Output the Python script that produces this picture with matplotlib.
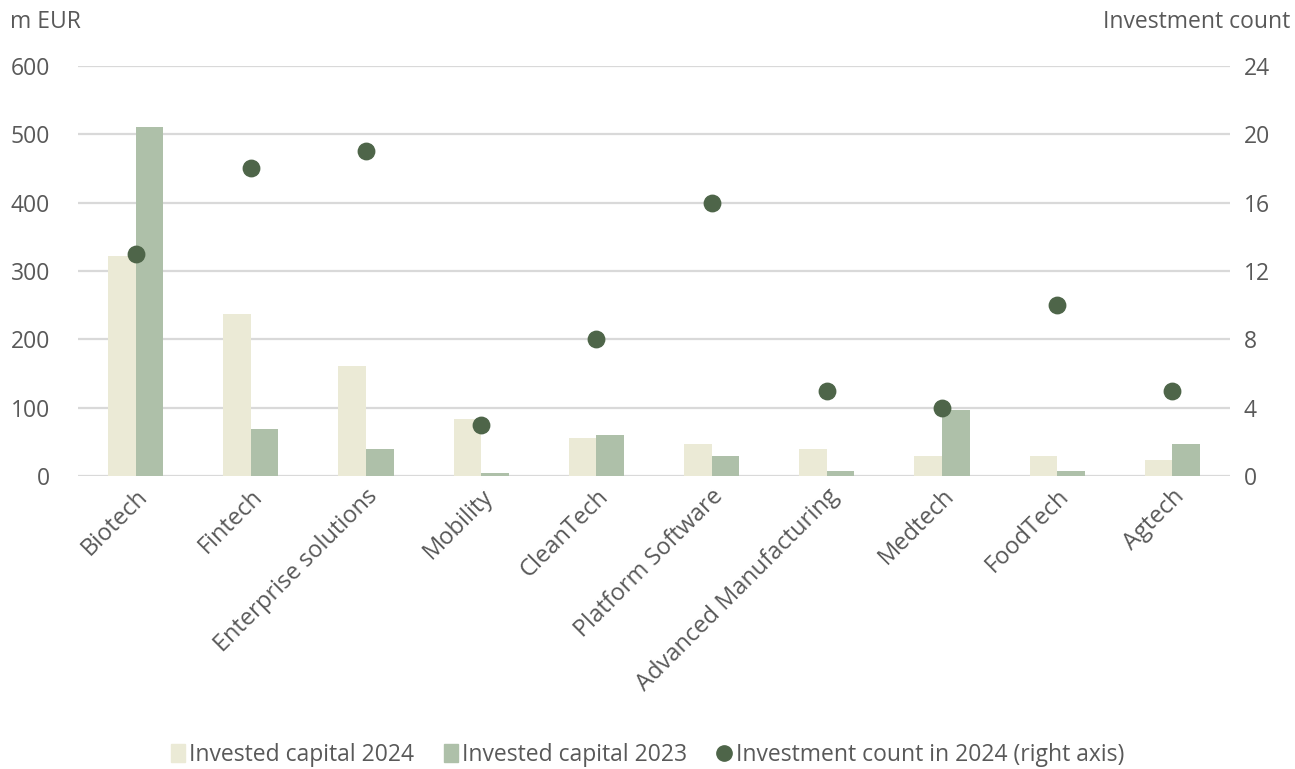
import matplotlib
matplotlib.use("Agg")
import matplotlib.pyplot as plt
import numpy as np
from matplotlib.lines import Line2D
from matplotlib.patches import Patch

categories = ["Biotech", "Fintech", "Enterprise solutions", "Mobility", "CleanTech",
              "Platform Software", "Advanced Manufacturing", "Medtech", "FoodTech", "Agtech"]
capital_2024 = [322, 237, 161, 84, 56, 47, 39, 29, 29, 24]
capital_2023 = [511, 69, 39, 4, 60, 29, 8, 96, 7, 47]
count_2024 = [13, 18, 19, 3, 8, 16, 5, 4, 10, 5]
left_ticks = [0, 100, 200, 300, 400, 500, 600]
right_ticks = [0, 4, 8, 12, 16, 20, 24]

plt.rcParams['font.family'] = ['Open Sans', 'DejaVu Sans']
TXT = "#595959"
C24 = "#EBEAD6"
C23 = "#AEC0A9"
CDOT = "#4E6549"
GRID = "#D9D9D9"
FS = 16.5

fig = plt.figure(figsize=(12.95, 7.69), dpi=100)
ax = fig.add_axes([78/1295, 1-476/769, (1230-78)/1295, (476-66)/769])
x = np.arange(len(categories))
w = 0.24
ax.bar(x - w/2, capital_2024, width=w, color=C24, zorder=2)
ax.bar(x + w/2, capital_2023, width=w, color=C23, zorder=2)
ax.set_xlim(-0.5, len(categories) - 0.5)
ax.set_ylim(0, 600)
ax.set_yticks(left_ticks)
ax.yaxis.grid(True, color=GRID, linewidth=1.6, zorder=0)
ax.set_axisbelow(True)
for s in ax.spines.values():
    s.set_visible(False)
ax.tick_params(axis='both', length=0, colors=TXT, labelsize=FS)
ax.tick_params(axis='x', labelsize=17, pad=6)
ax.tick_params(axis='y', pad=20)
ax.set_xticks(x)
ax.set_xticklabels(categories, rotation=45, ha='right', rotation_mode='anchor')

ax2 = ax.twinx()
ax2.scatter(x, count_2024, s=140, color=CDOT, zorder=3)
ax2.set_ylim(0, 24)
ax2.set_yticks(right_ticks)
for s in ax2.spines.values():
    s.set_visible(False)
ax2.tick_params(axis='y', length=0, colors=TXT, labelsize=FS, pad=10)

fig.text(10/1295, 1-22/769, "m EUR", color=TXT, fontsize=FS, va='center', ha='left')
fig.text(1290/1295, 1-22/769, "Investment count", color=TXT, fontsize=FS, va='center', ha='right')

handles = [Patch(color=C24, label="Invested capital 2024"),
           Patch(color=C23, label="Invested capital 2023"),
           Line2D([], [], marker='o', linestyle='none', color=CDOT, markersize=11,
                  label="Investment count in 2024 (right axis)")]
leg = fig.legend(handles=handles, loc='center', bbox_to_anchor=(0.5, 1-755/769), ncol=3,
                 frameon=False, fontsize=FS, handlelength=0.6, handleheight=0.8,
                 handletextpad=0.2, columnspacing=1.3, labelcolor=TXT)

fig.savefig("out.png", dpi=100)
